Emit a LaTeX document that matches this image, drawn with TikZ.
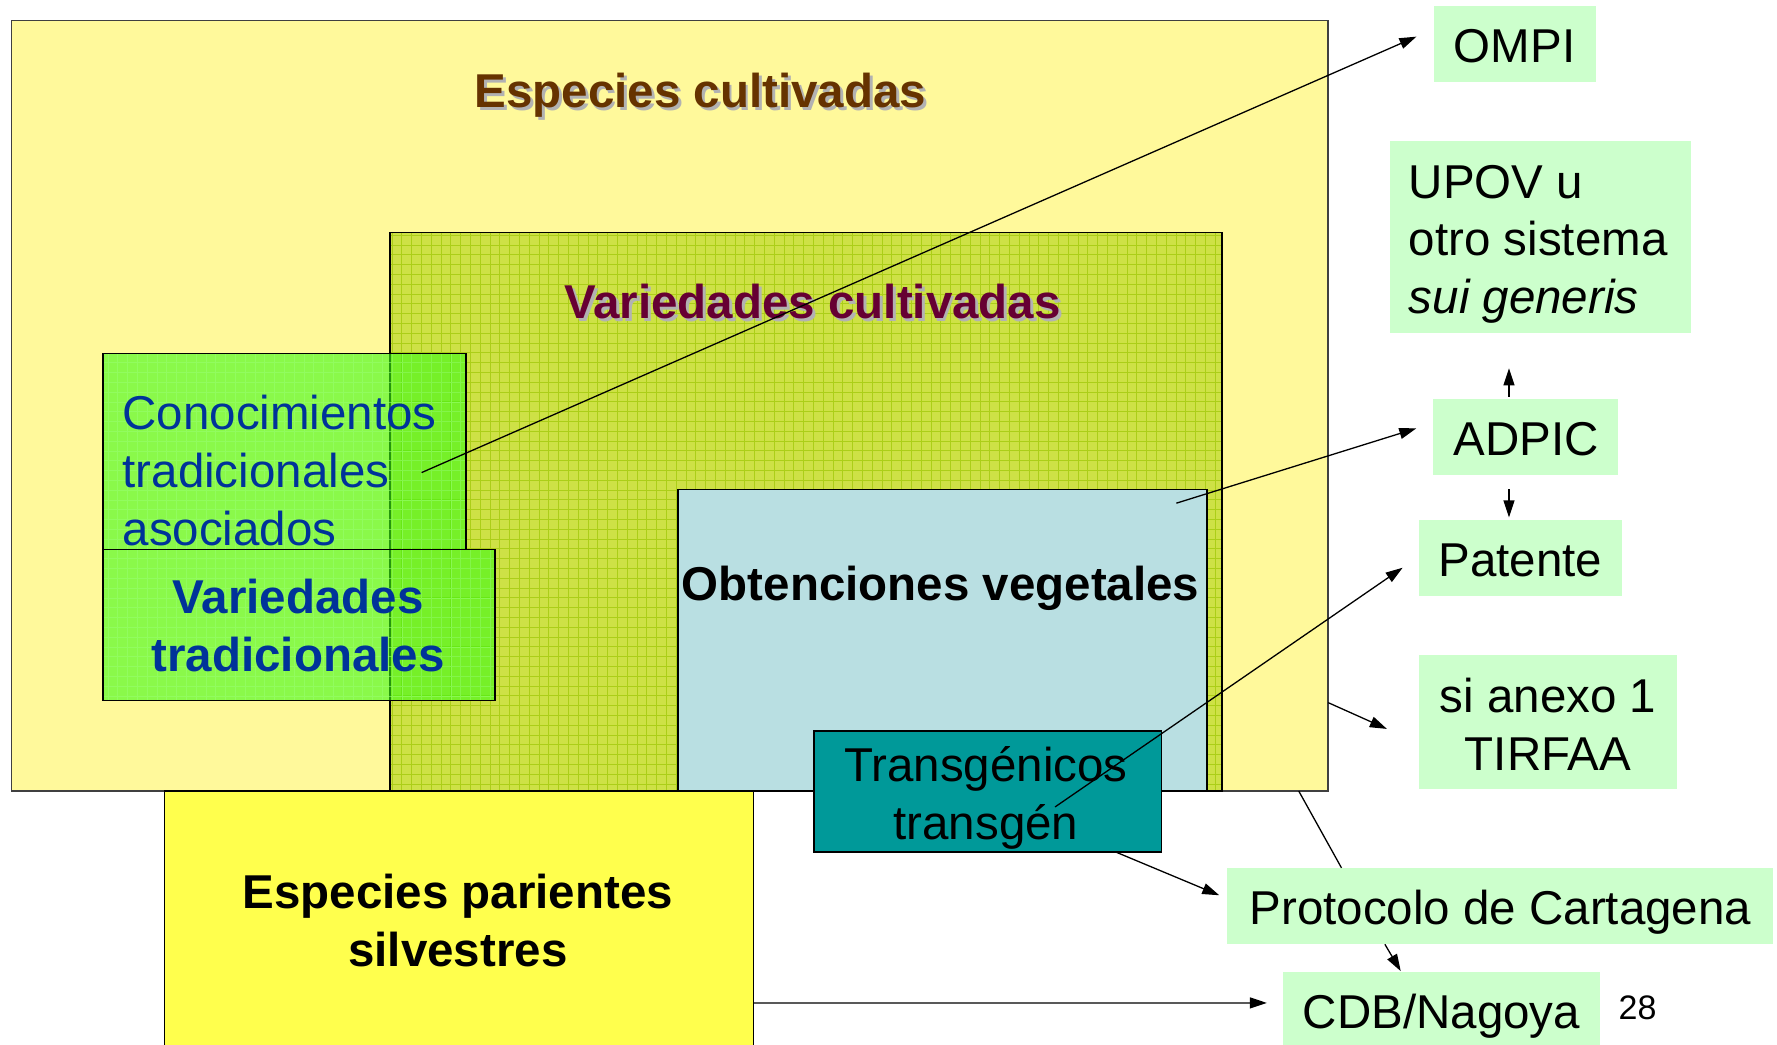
\documentclass[tikz,border=0pt]{standalone}
\usepackage{fontspec}
\setmainfont{Liberation Sans}
\usetikzlibrary{arrows.meta}
\definecolor{cpale}{RGB}{255,249,155}
\definecolor{cvar}{RGB}{206,225,70}
\definecolor{cvargrid}{RGB}{172,206,24}
\definecolor{cgreen}{RGB}{60,250,20}
\definecolor{cgreengrid}{RGB}{150,255,110}
\definecolor{cobt}{RGB}{185,223,226}
\definecolor{cteal}{RGB}{0,153,153}
\definecolor{cwild}{RGB}{255,255,77}
\definecolor{cmint}{RGB}{204,255,204}
\definecolor{cbrown}{RGB}{102,51,0}
\definecolor{cmaroon}{RGB}{102,0,51}
\definecolor{cblue}{RGB}{0,51,153}

\tikzset{
  region/.style={draw=black, line width=1.6pt},
  tag/.style={fill=cmint, inner sep=0pt, align=center},
  oneline/.style={text height=42.75pt, text depth=5.7pt},
  link/.style={line width=1.3pt, -{Triangle[length=17pt,width=11pt]}},
  plain/.style={line width=1.3pt},
  title/.style={font=\fontsize{47.5}{57.8}\selectfont\bfseries, inner sep=0pt, align=center},
  headline/.style={title, text height=40.4pt, text depth=6.4pt},
}

\begin{document}
\begin{tikzpicture}[x=1.1333pt, y=-1.1333pt, font=\fontsize{47.5}{57.8}\selectfont]
  \clip (0,0) rectangle (1568,922);
  \fill[white] (0,0) rectangle (1568,922);

  % cultivated species
  \draw[region, fill=cpale, draw=black!75] (10,18) rectangle (1172,698);
  \node[headline, text=black!30] (cultshade) at (620.5,82.5) {Especies cultivadas};
  \node[headline, text=cbrown] (culttitle) at (618,80) {Especies cultivadas};

  % cultivated varieties
  \fill[cvar] (344,205) rectangle (1078,698);
  \begin{scope}
    \clip (344,205) rectangle (1078,698);
    \draw[cvargrid, line width=0.7pt, step=9.8pt] (344,698) grid (1078,205);
  \end{scope}
  \draw[region] (344,205) rectangle (1078,698);
  \node[headline, text=black!30] (varshade) at (719.5,268.5) {Variedades cultivadas};
  \node[headline, text=cmaroon] (vartitle) at (717,266) {Variedades cultivadas};

  % traditional knowledge and varieties
  \foreach \x/\y/\u/\v in {91/312/411/485, 91/485/437/618} {
    \fill[cgreen, fill opacity=0.6] (\x,\y) rectangle (\u,\v);
    \begin{scope}
      \clip (\x,\y) rectangle (\u,\v);
      \draw[cgreengrid, opacity=0.6, line width=0.6pt, step=9.8pt] (\x,\v) grid (\u,\y);
    \end{scope}
    \draw[region] (\x,\y) rectangle (\u,\v);
  }
  \node[anchor=west, align=left, text=cblue, inner sep=0pt] (cono) at (108,415) {Conocimientos\\tradicionales\\asociados};
  \node[title, text=cblue] (vartrad) at (263,552) {Variedades\\tradicionales};

  % plant breeding
  \draw[region, fill=cobt] (598,432) rectangle (1065,698);
  \node[headline] (obt) at (830,515) {Obtenciones vegetales};

  % transgenics
  \draw[region, fill=cteal] (718,645) rectangle (1025,752);
  \node[align=center, inner sep=0pt] (trg) at (870,704) {Transgénicos\\transgén};

  % wild relatives
  \draw[region, line width=1.3pt, fill=cwild] (145,698) rectangle (665,960);
  \node[title] (wild) at (404,812) {Especies parientes\\silvestres};

  % agreements
  \node[tag, oneline, minimum width=162pt, minimum height=76pt] (ompi) at (1336.5,38.5) {OMPI};
  \node[tag, minimum width=301pt, minimum height=192pt] (upov) at (1359,209.5) {};
  \node[align=left, anchor=west, inner sep=0pt] (upovtext) at (1243,215.5) {UPOV u\\otro sistema\\\textit{sui generis}};
  \node[tag, oneline, minimum width=185pt, minimum height=76pt] (adpic) at (1346.5,385.5) {ADPIC};
  \node[tag, oneline, minimum width=203pt, minimum height=76pt] (patente) at (1341.5,492.5) {Patente};
  \node[tag, minimum width=258pt, minimum height=134pt] (tirfaa) at (1366,637) {};
  \node[align=center, inner sep=0pt] (tirfaatext) at (1366,639) {si anexo 1\\TIRFAA};
  \node[tag, oneline, minimum width=546pt, minimum height=76pt] (proto) at (1324,799.5) {Protocolo de Cartagena};
  \node[tag, oneline, minimum width=317pt, minimum height=76pt] (cdb) at (1272,891.5) {CDB/Nagoya};
  \node[font=\fontsize{34}{40}\selectfont, inner sep=0pt] (slidenum) at (1445,889) {28};

  % arrow starts
  \coordinate (conostart) at (372,417);
  \coordinate (obtstart) at (1038,444);
  \coordinate (trgstart) at (931,712);
  \coordinate (cultright) at (1172,620);
  \coordinate (cultbottom) at (1146,698);
  \coordinate (trgbottom) at (985,752);
  \coordinate (wildright) at (665,885);

  % arrows
  \draw[link] (conostart) -- ([xshift=-17pt,yshift=7pt]ompi.west);
  \draw[link] ([xshift=-17pt,yshift=2pt]adpic.north) -- ++(0,-25);
  \draw[link] ([xshift=-17pt,yshift=-14pt]adpic.south) -- ++(0,25);
  \draw[link] (obtstart) -- ([xshift=-17pt,yshift=8.5pt]adpic.west);
  \draw[link] (trgstart) -- ([xshift=-16pt,yshift=-9.6pt]patente.west);
  \draw[link] (cultright) -- ([xshift=-32pt,yshift=-7pt]tirfaa.west);
  \draw[plain] (cultbottom) -- ([xshift=-159pt]proto.north);
  \draw[link] (trgbottom) -- ([xshift=-8pt,yshift=10.8pt]proto.west);
  \draw[link] ([xshift=-115.6pt]proto.south) -- ([xshift=-40.8pt,yshift=1pt]cdb.north);
  \draw[link] (wildright) -- ([xshift=-16pt,yshift=7.4pt]cdb.west);
\end{tikzpicture}
\end{document}
